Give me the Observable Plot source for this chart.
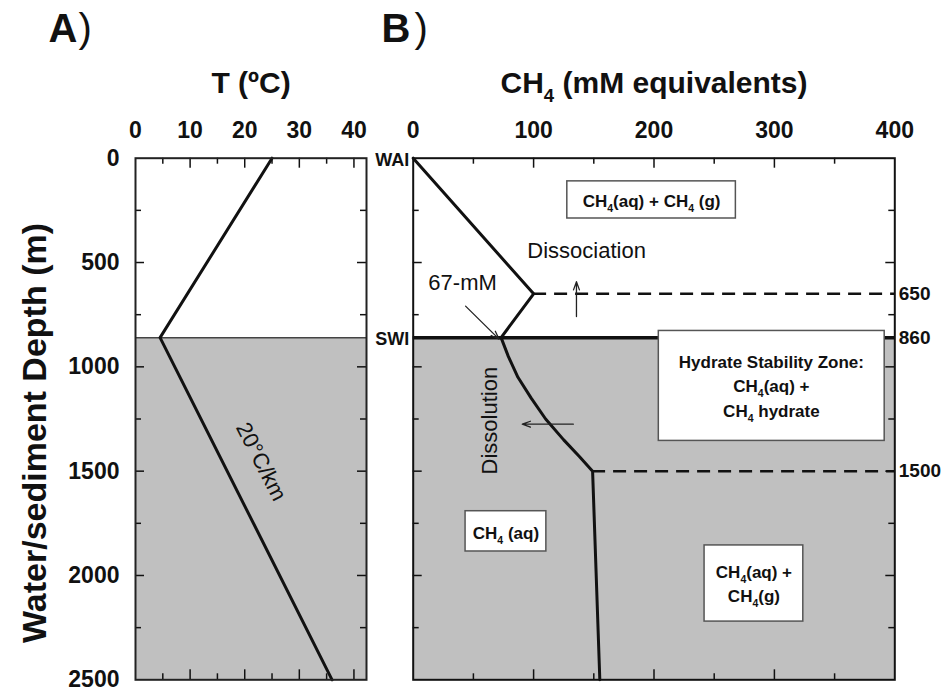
<!DOCTYPE html>
<html>
<head>
<meta charset="utf-8">
<script src="https://cdn.jsdelivr.net/npm/d3@7"></script>
<script src="https://cdn.jsdelivr.net/npm/@observablehq/plot@0.6"></script>
<style>
  body { margin: 0; background: #fff; }
  #wrap { position: relative; width: 943px; height: 692px; overflow: hidden; }
  #a { position: absolute; left: 0; top: 0; width: 368px; height: 692px; }
  #b { position: absolute; left: 368px; top: 0; width: 575px; height: 692px; }
</style>
</head>
<body>
<div id="wrap"><div id="a"></div><div id="b"></div></div>
<script>
// ---------------- data ----------------
// Panel A: temperature profile
const tempDepth = [0, 860, 2500];
const tempValue = [25, 4.5, 36];
// Panel B: CH4 profile
const ch4Depth = [0, 650, 860, 950, 1050, 1150, 1250, 1350, 1430, 1500, 2500];
const ch4Value = [0, 100, 73, 79, 87, 98, 110, 125, 138, 149, 155];
// axes
const tempTicks = [0, 10, 20, 30, 40];
const tempMajorTicks = [10, 20, 30, 40];
const tempMinorTicks = [5, 15, 25, 35];
const ch4Ticks = [0, 100, 200, 300, 400];
const ch4MajorTicks = [100, 200, 300];
const ch4MinorTicks = [50, 150, 250, 350];
const depthTicks = [0, 500, 1000, 1500, 2000, 2500];
const depthMajorTicks = [500, 1000, 1500, 2000];
const depthMinorTicks = [250, 750, 1250, 1750, 2250];
const tempDomain = [0, 42.3];
const ch4Domain = [0, 400];
const depthDomain = [0, 2500];
// zones / boundaries
const sedimentZone = [{top: 860, bottom: 2500}];
const swiDepth = [860];
const boundaryLabels = [650, 860, 1500];
const interfaceNames = ["WAI", "SWI"];
const interfaceDepths = [0, 860];
const dashedDepths = [650, 1500];
const dashedFrom = [100, 149];
const dashedTo = [400, 400];
// annotations (data coordinates)
const boxText = ["CH₄(aq) + CH₄ (g)", "Hydrate Stability Zone:\nCH₄(aq) +\nCH₄ hydrate", "CH₄ (aq)", "CH₄(aq) +\nCH₄(g)"];
const boxX1 = [128, 204, 43.5, 242];
const boxX2 = [268, 391.6, 110.6, 324];
const boxY1 = [111, 828, 1692, 1856];
const boxY2 = [289, 1355, 1885, 2221];
const boxTextX = [198, 297.5, 77, 283];
const boxTextY = [196, 1085, 1788, 2032];
const arrowX1 = [135.6, 133, 43.5];
const arrowY1 = [759, 1275, 709];
const arrowX2 = [135.6, 90.6, 71.3];
const arrowY2 = [592, 1275, 867];

// ---------------- build tables ----------------
const tempRows = tempDepth.map((d, i) => ({depth: d, t: tempValue[i]}));
const ch4Rows = ch4Depth.map((d, i) => ({depth: d, c: ch4Value[i]}));
const boxes = boxText.map((t, i) => ({text: t, x1: boxX1[i], x2: boxX2[i], y1: boxY1[i], y2: boxY2[i], tx: boxTextX[i], ty: boxTextY[i]}));
const arrows = arrowX1.map((x, i) => ({x1: x, y1: arrowY1[i], x2: arrowX2[i], y2: arrowY2[i]}));
const dashed = dashedDepths.map((d, i) => ({depth: d, from: dashedFrom[i], to: dashedTo[i]}));
const interfaces = interfaceNames.map((n, i) => ({name: n, depth: interfaceDepths[i]}));

// ---------------- layout ----------------
const FONT = "'Liberation Sans', Arial, Helvetica, sans-serif";
const H = 692, MT = 157.7, MB = 12.7;
const innerH = H - MT - MB;
const WA = 368, MLA = 135, MRA = 2;
const innerWA = WA - MLA - MRA;
const WB = 575, MLB = 44.7, MRB = 48.7;
const innerWB = WB - MLB - MRB;
const INK = "#111";

function frameTicks(majX, minX, innerW) {
  return [
    Plot.ruleX(majX, {x: d => d, insetBottom: innerH - 10, stroke: INK, strokeWidth: 1.5}),
    Plot.ruleX(minX, {x: d => d, insetBottom: innerH - 6, stroke: INK, strokeWidth: 1.5}),
    Plot.ruleX(majX, {x: d => d, insetTop: innerH - 10, stroke: INK, strokeWidth: 1.5}),
    Plot.ruleX(minX, {x: d => d, insetTop: innerH - 6, stroke: INK, strokeWidth: 1.5}),
    Plot.ruleY(depthMajorTicks, {y: d => d, insetRight: innerW - 9, stroke: INK, strokeWidth: 1.5}),
    Plot.ruleY(depthMinorTicks, {y: d => d, insetRight: innerW - 6, stroke: INK, strokeWidth: 1.5}),
    Plot.ruleY(depthMajorTicks, {y: d => d, insetLeft: innerW - 9, stroke: INK, strokeWidth: 1.5}),
    Plot.ruleY(depthMinorTicks, {y: d => d, insetLeft: innerW - 6, stroke: INK, strokeWidth: 1.5})
  ];
}

// ---------------- panel A ----------------
const plotA = Plot.plot({
  width: WA, height: H,
  marginLeft: MLA, marginRight: MRA, marginTop: MT, marginBottom: MB,
  style: {fontFamily: FONT, background: "transparent", color: INK, overflow: "visible"},
  x: {domain: tempDomain},
  y: {domain: depthDomain, reverse: true},
  marks: [
    Plot.rect(sedimentZone, {y1: "top", y2: "bottom", fill: "#c0c0c0"}),
    Plot.ruleY(swiDepth, {y: d => d, stroke: "#444", strokeWidth: 1.5}),
    ...frameTicks(tempMajorTicks, tempMinorTicks, innerWA),
    Plot.line(tempRows, {x: "t", y: "depth", stroke: INK, strokeWidth: 3}),
    Plot.frame({stroke: "#222", strokeWidth: 2}),
    Plot.axisX({anchor: "top", ticks: tempTicks, tickSize: 0, tickPadding: 20, fontSize: 23, fontWeight: "bold", label: null, tickFormat: d => String(d)}),
    Plot.axisY({anchor: "left", ticks: depthTicks, tickSize: 0, tickPadding: 16, fontSize: 23, fontWeight: "bold", label: null, tickFormat: d => String(d)}),
    Plot.text(["20°C/km"], {x: () => 23, y: () => 1455, text: d => d, rotate: 62.9, fontSize: 22, fill: INK}),
    Plot.text(["T (ºC)"], {frameAnchor: "top", text: d => d, lineAnchor: "middle", textAnchor: "middle", dy: -75, fontSize: 30, fontWeight: "bold", fill: INK}),
    Plot.text(["A"], {frameAnchor: "top-left", text: d => d, lineAnchor: "middle", textAnchor: "start", dx: -87, dy: -129.5, fontSize: 40, fontWeight: "bold", fill: INK}),
    Plot.text([")"], {frameAnchor: "top-left", text: d => d, lineAnchor: "middle", textAnchor: "start", dx: -57, dy: -129.5, fontSize: 40, fill: INK}),
    Plot.text(["Water/sediment Depth (m)"], {frameAnchor: "left", text: d => d, lineAnchor: "middle", textAnchor: "middle", rotate: -90, dx: -100, dy: 14, fontSize: 34, fontWeight: "bold", fill: INK})
  ]
});
document.getElementById("a").append(plotA);

// ---------------- panel B ----------------
const plotB = Plot.plot({
  width: WB, height: H,
  marginLeft: MLB, marginRight: MRB, marginTop: MT, marginBottom: MB,
  style: {fontFamily: FONT, background: "transparent", color: INK, overflow: "visible"},
  x: {domain: ch4Domain},
  y: {domain: depthDomain, reverse: true, axis: null},
  marks: [
    Plot.rect(sedimentZone, {y1: "top", y2: "bottom", fill: "#c0c0c0"}),
    Plot.ruleY(swiDepth, {y: d => d, stroke: INK, strokeWidth: 3.5}),
    ...frameTicks(ch4MajorTicks, ch4MinorTicks, innerWB),
    Plot.ruleY(dashed, {y: "depth", x1: "from", x2: "to", stroke: INK, strokeWidth: 2.5, strokeDasharray: "13,8"}),
    Plot.line(ch4Rows, {x: "c", y: "depth", stroke: INK, strokeWidth: 3, strokeLinejoin: "miter"}),
    Plot.arrow(arrows, {x1: "x1", y1: "y1", x2: "x2", y2: "y2", stroke: "#222", strokeWidth: 1.3, headLength: 10, headAngle: 40}),
    Plot.rect(boxes, {x1: "x1", x2: "x2", y1: "y1", y2: "y2", fill: "white", stroke: "#555", strokeWidth: 1.5}),
    Plot.text(boxes, {x: "tx", y: "ty", text: "text", fontSize: 17, fontWeight: "bold", lineHeight: 1.45, fill: INK}),
    Plot.frame({stroke: "#111", strokeWidth: 2}),
    Plot.axisX({anchor: "top", ticks: ch4Ticks, tickSize: 0, tickPadding: 20, fontSize: 23, fontWeight: "bold", label: null, tickFormat: d => String(d)}),
    Plot.text(boundaryLabels, {y: d => d, frameAnchor: "right", text: d => String(d), textAnchor: "start", lineAnchor: "middle", dx: 4, fontSize: 19, fontWeight: "bold", fill: INK}),
    Plot.text(interfaces, {y: "depth", frameAnchor: "left", text: "name", textAnchor: "end", lineAnchor: "middle", dx: -4, dy: 2, fontSize: 18, fontWeight: "bold", fill: INK}),
    Plot.text(["Dissociation"], {x: () => 144, y: () => 446, text: d => d, fontSize: 22, fill: INK}),
    Plot.text(["67-mM"], {x: () => 41, y: () => 600, text: d => d, fontSize: 22, fill: INK}),
    Plot.text(["Dissolution"], {x: () => 63.5, y: () => 1258, text: d => d, rotate: -90, fontSize: 22, fill: INK}),
    Plot.text(["CH₄ (mM equivalents)"], {frameAnchor: "top", text: d => d, lineAnchor: "middle", textAnchor: "middle", dy: -75, fontSize: 30, fontWeight: "bold", fill: INK}),
    Plot.text(["B"], {frameAnchor: "top-left", text: d => d, lineAnchor: "middle", textAnchor: "start", dx: -31.7, dy: -129.5, fontSize: 40, fontWeight: "bold", fill: INK}),
    Plot.text([")"], {frameAnchor: "top-left", text: d => d, lineAnchor: "middle", textAnchor: "start", dx: 1.3, dy: -129.5, fontSize: 40, fill: INK})
  ]
});
document.getElementById("b").append(plotB);

// render the subscript 4 of CH4 as a lowered, smaller digit (still real text)
function subscripts(svg) {
  const walker = document.createTreeWalker(svg, NodeFilter.SHOW_TEXT);
  const nodes = [];
  while (walker.nextNode()) if (walker.currentNode.nodeValue.includes("₄")) nodes.push(walker.currentNode);
  for (const node of nodes) {
    const parent = node.parentNode;
    const fs = parseFloat(getComputedStyle(parent).fontSize) || 16;
    const parts = node.nodeValue.split("₄");
    const frag = document.createDocumentFragment();
    parts.forEach((p, i) => {
      if (i > 0) {
        const t = document.createElementNS("http://www.w3.org/2000/svg", "tspan");
        t.setAttribute("font-size", (fs * 0.62).toFixed(1));
        t.setAttribute("baseline-shift", (-fs * 0.3).toFixed(1));
        t.textContent = "4";
        frag.append(t);
      }
      if (p) frag.append(document.createTextNode(p));
    });
    parent.replaceChild(frag, node);
  }
}
subscripts(plotB);
</script>
</body>
</html>
